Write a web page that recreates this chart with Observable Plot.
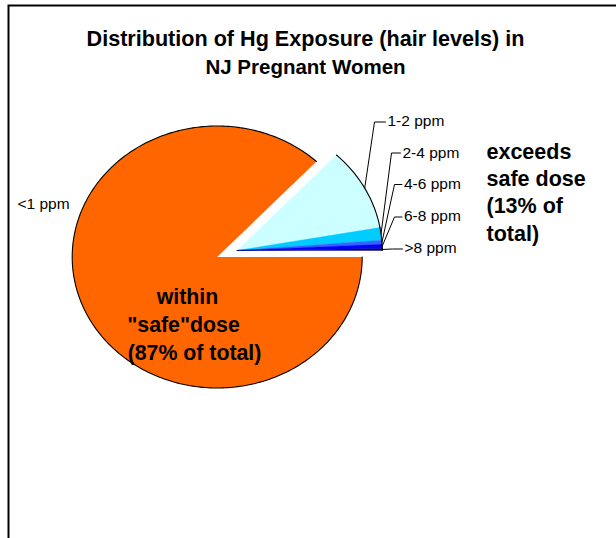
<!DOCTYPE html>
<html><head><meta charset="utf-8">
<script src="https://cdn.jsdelivr.net/npm/d3@7"></script>
<script src="https://cdn.jsdelivr.net/npm/@observablehq/plot@0.6"></script>
<style>html,body{margin:0;padding:0;background:#fff}</style>
</head><body><div id="chart"></div>
<script>
// ---- data ----
const categories = ["<1 ppm", "1-2 ppm", "2-4 ppm", "4-6 ppm", "6-8 ppm", ">8 ppm"];
const shares = [87.0, 10.2, 1.55, 0.5, 0.5, 0.25]; // percent of women
const sliceColors = ["#FF6600", "#CCFFFF", "#00CCFF", "#3366FF", "#0000FF", "#000080"];
const explodedFlags = [false, true, true, true, true, true];
const titleLines = ["Distribution of Hg Exposure (hair levels) in", "NJ Pregnant Women"];
const exceedsLines = ["exceeds", "safe dose", "(13% of", "total)"];
const withinLines = ["within", "\"safe\"dose", "(87% of total)"];

// ---- layout ----
const W = 616, H = 538;
const PIE = {cx: 216.7, cy: 256.5, rx: 145, ry: 131, dx: 20, dy: -6.5};
const LABEL_LAYOUT = [
  {x: 17, y: 203.5, elbow: null},
  {x: 387, y: 120.5, elbow: [374, 121.5]},
  {x: 402, y: 152.5, elbow: [391, 152.5]},
  {x: 403.5, y: 184, elbow: [394, 184]},
  {x: 403.5, y: 216, elbow: [394, 216.5]},
  {x: 404, y: 248, elbow: [392, 248.5]}
];
const TITLE_LAYOUT = {x: 305, y0: 39, step: 28, size: [21.6, 20.5]};
const EXCEEDS_LAYOUT = {x: 486, y0: 151.5, step: 27.3, size: 21.5};
const WITHIN_LAYOUT = {x: [187, 183, 194], y0: 297, step: 28, size: 21.3};
const FONT = "Liberation Sans, Arial, Helvetica, sans-serif";

// ---- geometry from data ----
const total = d3.sum(shares);
let acc = 0;
const slices = categories.map((c, i) => {
  const t0 = acc / total * 2 * Math.PI;
  acc += shares[i];
  const t1 = acc / total * 2 * Math.PI;
  return {c, i, t0, t1, ox: explodedFlags[i] ? PIE.dx : 0, oy: explodedFlags[i] ? PIE.dy : 0, color: sliceColors[i]};
});
const pt = (s, t) => ({slice: s.c, x: PIE.cx + s.ox + PIE.rx * Math.cos(t), y: PIE.cy + s.oy + PIE.ry * Math.sin(t)});
function arcPts(s) {
  const n = Math.max(3, Math.ceil((s.t1 - s.t0) / (2 * Math.PI) * 360));
  return d3.range(n + 1).map(k => pt(s, s.t0 + (s.t1 - s.t0) * k / n));
}
function wedgePts(s) {
  const apex = {slice: s.c, x: PIE.cx + s.ox, y: PIE.cy + s.oy};
  return [apex, ...arcPts(s), apex];
}

const leaders = [];
slices.forEach((s, i) => {
  const L = LABEL_LAYOUT[i];
  if (!L.elbow) return;
  const m = pt(s, (s.t0 + s.t1) / 2);
  leaders.push(m, {slice: s.c, x: L.elbow[0], y: L.elbow[1]}, {slice: s.c, x: L.x - 2, y: L.elbow[1]});
});

const labelRows = categories.map((c, i) => ({c, x: LABEL_LAYOUT[i].x, y: LABEL_LAYOUT[i].y}));
const titleRows = titleLines.map((t, i) => ({t, x: TITLE_LAYOUT.x, y: TITLE_LAYOUT.y0 + i * TITLE_LAYOUT.step, s: TITLE_LAYOUT.size[i]}));
const exceedsRows = exceedsLines.map((t, i) => ({t, x: EXCEEDS_LAYOUT.x, y: EXCEEDS_LAYOUT.y0 + i * EXCEEDS_LAYOUT.step}));
const withinRows = withinLines.map((t, i) => ({t, x: WITHIN_LAYOUT.x[i], y: WITHIN_LAYOUT.y0 + i * WITHIN_LAYOUT.step}));

const marks = [
  Plot.frame({insetLeft: 8, insetTop: 5, insetRight: -10, insetBottom: -10, stroke: "#000", strokeWidth: 2}),
  ...slices.map(s => Plot.line(wedgePts(s), {x: "x", y: "y", fill: s.color, stroke: s.i === 0 ? "none" : s.color, strokeWidth: 0.4, curve: "linear"})),
  ...slices.map(s => Plot.line(arcPts(s), {x: "x", y: "y", stroke: "#000", strokeWidth: 1.1})),
  Plot.line(leaders, {x: "x", y: "y", z: "slice", stroke: "#000", strokeWidth: 1}),
  Plot.text(labelRows, {x: "x", y: "y", text: "c", textAnchor: "start", fontSize: 15.5, fill: "#000"}),
  Plot.text(titleRows, {x: "x", y: "y", text: "t", textAnchor: "middle", fontSize: "s", fontWeight: "bold", fill: "#000"}),
  Plot.text(exceedsRows, {x: "x", y: "y", text: "t", textAnchor: "start", fontSize: EXCEEDS_LAYOUT.size, fontWeight: "bold", fill: "#000"}),
  Plot.text(withinRows, {x: "x", y: "y", text: "t", textAnchor: "middle", fontSize: WITHIN_LAYOUT.size, fontWeight: "bold", fill: "#000"})
];

const chart = Plot.plot({
  width: W, height: H,
  margin: 0,
  style: {fontFamily: FONT, background: "#fff"},
  x: {domain: [0, W], range: [0, W], axis: null},
  y: {domain: [0, H], range: [0, H], axis: null},
  marks
});
document.getElementById("chart").appendChild(chart);
</script>
</body></html>
